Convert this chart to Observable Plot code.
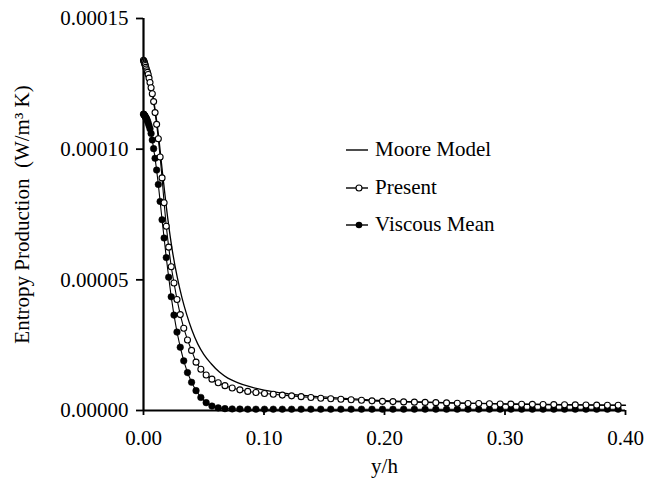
<!DOCTYPE html>
<html>
<head>
<meta charset="utf-8">
<script src="https://cdn.jsdelivr.net/npm/d3@7"></script>
<script src="https://cdn.jsdelivr.net/npm/@observablehq/plot@0.6"></script>
<style>
  body { margin: 0; background: #fff; }
  #wrap { position: relative; width: 655px; height: 483px; font-family: "Liberation Serif", "Times New Roman", serif; }
  .leg { position: absolute; left: 345px; font-size: 21px; color: #000; display: flex; align-items: center; white-space: nowrap; }
  .leg svg { margin-right: 6px; }
</style>
</head>
<body>
<div id="wrap"></div>
<script>
// y/h grid shared by the two marker series
const gridY = [0, 0.0003, 0.0006, 0.0009, 0.0012, 0.0015, 0.0019, 0.0023, 0.0028, 0.0033, 0.0039, 0.0046, 0.0054, 0.0063, 0.0073, 0.0084, 0.0096, 0.0109, 0.0123, 0.0138, 0.0154, 0.0171, 0.0189, 0.0209, 0.023, 0.0253, 0.0278, 0.0305, 0.0334, 0.0365, 0.0399, 0.0436, 0.0476, 0.052, 0.0568, 0.062, 0.0676, 0.0736, 0.08, 0.0865, 0.0933, 0.1004, 0.1077, 0.1152, 0.1229, 0.1308, 0.1389, 0.1471, 0.1554, 0.1638, 0.1723, 0.1809, 0.1896, 0.1983, 0.207, 0.2159, 0.2248, 0.2337, 0.2426, 0.2515, 0.2604, 0.2693, 0.2782, 0.2871, 0.296, 0.3049, 0.3138, 0.3227, 0.3316, 0.3405, 0.3494, 0.3583, 0.3672, 0.3761, 0.385, 0.3939];

// Present (open circles), W/m^3 K
const presentVals = [13.4e-5, 13.37e-5, 13.33e-5, 13.29e-5, 13.25e-5, 13.2e-5, 13.13e-5, 13.07e-5, 13.0e-5, 12.94e-5, 12.86e-5, 12.72e-5, 12.55e-5, 12.35e-5, 12.12e-5, 11.82e-5, 11.4e-5, 10.95e-5, 10.4e-5, 9.7e-5, 8.9e-5, 7.95e-5, 7.05e-5, 6.25e-5, 5.5e-5, 4.88e-5, 4.25e-5, 3.67e-5, 3.15e-5, 2.7e-5, 2.3e-5, 1.85e-5, 1.58e-5, 1.36e-5, 1.2e-5, 1.06e-5, 0.95e-5, 0.86e-5, 0.79e-5, 0.73e-5, 0.69e-5, 0.65e-5, 0.62e-5, 0.59e-5, 0.56e-5, 0.53e-5, 0.5e-5, 0.47e-5, 0.45e-5, 0.43e-5, 0.41e-5, 0.39e-5, 0.37e-5, 0.35e-5, 0.34e-5, 0.33e-5, 0.32e-5, 0.31e-5, 0.3e-5, 0.29e-5, 0.28e-5, 0.27e-5, 0.265e-5, 0.26e-5, 0.25e-5, 0.245e-5, 0.24e-5, 0.235e-5, 0.23e-5, 0.225e-5, 0.22e-5, 0.215e-5, 0.21e-5, 0.205e-5, 0.2e-5, 0.2e-5];

// Viscous Mean (filled circles)
const viscousVals = [11.34e-5, 11.33e-5, 11.31e-5, 11.29e-5, 11.27e-5, 11.24e-5, 11.21e-5, 11.18e-5, 11.14e-5, 11.08e-5, 11.0e-5, 10.9e-5, 10.78e-5, 10.6e-5, 10.35e-5, 10.02e-5, 9.65e-5, 9.2e-5, 8.65e-5, 8.0e-5, 7.3e-5, 6.6e-5, 5.85e-5, 5.1e-5, 4.35e-5, 3.65e-5, 3.0e-5, 2.42e-5, 1.9e-5, 1.45e-5, 1.08e-5, 0.76e-5, 0.5e-5, 0.3e-5, 0.17e-5, 0.1e-5, 0.07e-5, 0.06e-5, 0.055e-5, 0.05e-5, 0.05e-5, 0.05e-5, 0.05e-5, 0.05e-5, 0.05e-5, 0.05e-5, 0.05e-5, 0.05e-5, 0.05e-5, 0.05e-5, 0.05e-5, 0.05e-5, 0.05e-5, 0.05e-5, 0.05e-5, 0.05e-5, 0.05e-5, 0.05e-5, 0.05e-5, 0.05e-5, 0.05e-5, 0.05e-5, 0.05e-5, 0.05e-5, 0.05e-5, 0.05e-5, 0.05e-5, 0.05e-5, 0.05e-5, 0.05e-5, 0.05e-5, 0.05e-5, 0.05e-5, 0.05e-5, 0.05e-5, 0.05e-5];

// Moore Model (solid line)
const mooreY = [0, 0.004, 0.008, 0.012, 0.016, 0.02, 0.024, 0.028, 0.032, 0.036, 0.04, 0.045, 0.05, 0.056, 0.063, 0.07, 0.078, 0.089, 0.1, 0.12, 0.14, 0.16, 0.19, 0.22, 0.26, 0.3, 0.35, 0.4];
const mooreVals = [13.5e-5, 12.95e-5, 12.0e-5, 10.7e-5, 9.0e-5, 7.4e-5, 6.1e-5, 5.1e-5, 4.3e-5, 3.65e-5, 3.1e-5, 2.55e-5, 2.15e-5, 1.8e-5, 1.47e-5, 1.24e-5, 1.07e-5, 0.9e-5, 0.78e-5, 0.64e-5, 0.55e-5, 0.48e-5, 0.4e-5, 0.34e-5, 0.29e-5, 0.25e-5, 0.22e-5, 0.2e-5];

const xTicks = [0, 0.1, 0.2, 0.3, 0.4];
const yTicks = [0, 0.00005, 0.0001, 0.00015];
const seriesNames = ["Moore Model", "Present", "Viscous Mean"];
const xLabel = "y/h";
const yLabel = "Entropy Production\u00a0 (W/m\u00b3 K)";

const present = gridY.map((x, i) => ({x, v: presentVals[i]}));
const viscous = gridY.map((x, i) => ({x, v: viscousVals[i]}));
const moore = mooreY.map((x, i) => ({x, v: mooreVals[i]}));

const chart = Plot.plot({
  width: 655,
  height: 483,
  marginLeft: 143,
  marginRight: 30,
  marginTop: 18,
  marginBottom: 73,
  style: {fontFamily: "Liberation Serif, Times New Roman, serif", fontSize: "21px", color: "#000", background: "#fff", overflow: "visible"},
  x: {domain: [0, 0.4]},
  y: {domain: [0, 0.00015]},
  marks: [
    Plot.axisX({ticks: xTicks, tickFormat: d3.format(".2f"), tickSize: 5, tickPadding: 15, strokeWidth: 1.8, label: null}),
    Plot.axisY({ticks: yTicks, tickFormat: d3.format(".5f"), tickSize: 7, tickPadding: 8, strokeWidth: 1.8, label: null}),
    Plot.ruleX([0], {stroke: "#000", strokeWidth: 2.2}),
    Plot.ruleY([0], {stroke: "#000", strokeWidth: 2.2}),
    Plot.line(moore, {x: "x", y: "v", stroke: "#000", strokeWidth: 1.3, curve: "monotone-x"}),
    Plot.line(viscous, {x: "x", y: "v", stroke: "#000", strokeWidth: 1.1}),
    Plot.dot(viscous, {x: "x", y: "v", r: 3.3, fill: "#000", stroke: "#000", strokeWidth: 0.5}),
    Plot.line(present, {x: "x", y: "v", stroke: "#000", strokeWidth: 1.1}),
    Plot.dot(present, {x: "x", y: "v", r: 3, fill: "#fff", stroke: "#000", strokeWidth: 1.1}),
    Plot.text([yLabel], {frameAnchor: "left", textAnchor: "middle", lineAnchor: "middle", rotate: -90, dx: -121, fill: "#000", fontSize: 21}),
    Plot.text([xLabel], {frameAnchor: "bottom", textAnchor: "middle", lineAnchor: "middle", dy: 56, fill: "#000", fontSize: 21})
  ]
});

const wrap = document.getElementById("wrap");
wrap.appendChild(chart);

// Legend
const legendRows = [
  {name: seriesNames[0], top: 137, marker: null},
  {name: seriesNames[1], top: 175, marker: "open"},
  {name: seriesNames[2], top: 212, marker: "filled"}
];
for (const row of legendRows) {
  const div = document.createElement("div");
  div.className = "leg";
  div.style.top = row.top + "px";
  let sym = `<svg width="24" height="24"><line x1="1" x2="23" y1="12" y2="12" stroke="#000" stroke-width="1.4"/>`;
  if (row.marker === "open") sym += `<circle cx="14" cy="12" r="3" fill="#fff" stroke="#000" stroke-width="1.1"/>`;
  if (row.marker === "filled") sym += `<circle cx="14" cy="12" r="3.3" fill="#000"/>`;
  sym += `</svg>`;
  div.innerHTML = sym + `<span>${row.name}</span>`;
  wrap.appendChild(div);
}
</script>
</body>
</html>
